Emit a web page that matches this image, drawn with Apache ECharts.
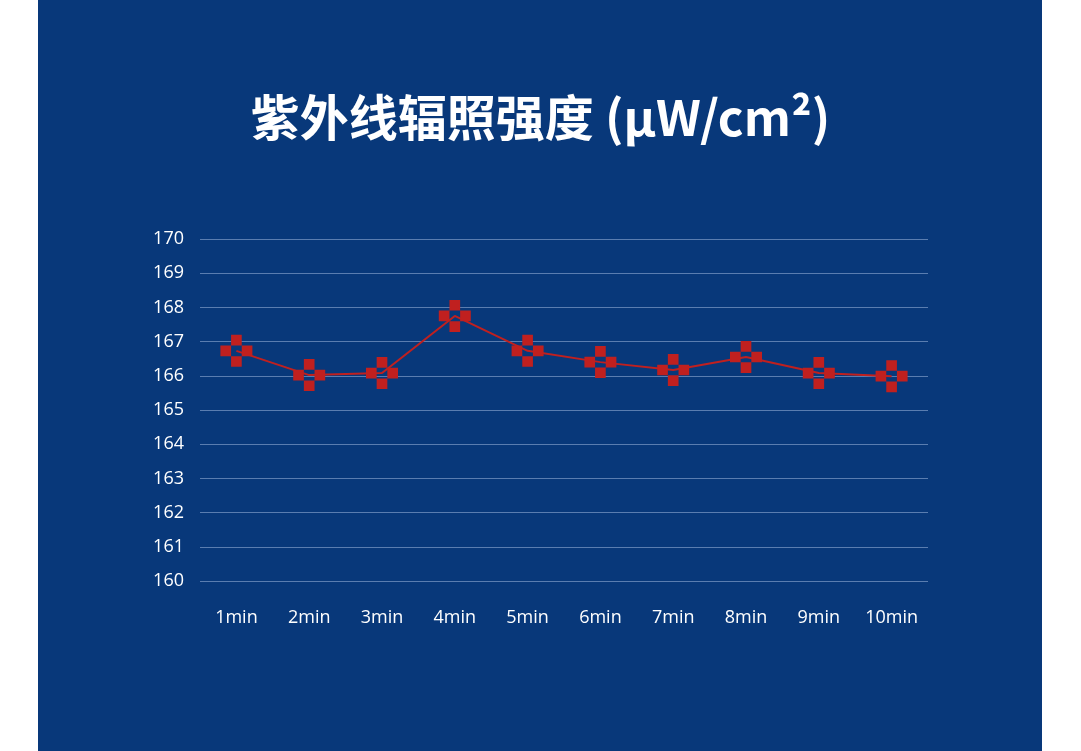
<!DOCTYPE html><html><head><meta charset="utf-8"><script src="https://cdn.jsdelivr.net/npm/echarts@6/dist/echarts.min.js"></script>
<style>body{margin:0;background:#fff}#p{position:absolute;left:38px;top:0;width:1004px;height:751px;background:#08387a}#c{position:absolute;left:0;top:0;width:1081px;height:751px}</style></head><body><div id="p"></div><div id="c"></div><script>
const categories=['1min','2min','3min','4min','5min','6min','7min','8min','9min','10min'];
const values=[166.73,166.02,166.08,167.75,166.73,166.4,166.17,166.55,166.08,165.99];
const ch=echarts.init(document.getElementById('c'));
ch.setOption({
title:{text:'紫外线辐照强度 (μW/cm²)',left:'center',top:88,textStyle:{color:'#fff',fontSize:49,fontWeight:'bold',fontFamily:'Noto Sans CJK SC'}},
grid:{left:200,right:153,top:239,bottom:170},
xAxis:{type:'category',data:categories,axisLine:{show:false},axisTick:{show:false},axisLabel:{color:'#fff',fontSize:18,margin:28,fontFamily:'Open Sans'}},
yAxis:{type:'value',min:160,max:170,interval:1,axisLabel:{color:'#fff',fontSize:18,margin:16,fontFamily:'Open Sans'},splitLine:{lineStyle:{color:'#5a7db0',width:1}}},
series:[{type:'line',data:values,symbol:'path://M10 0H20V10H10ZM0 10H10V20H0ZM20 10H30V20H20ZM10 20H20V30H10Z',symbolSize:32,lineStyle:{color:'#c0201f',width:2},itemStyle:{color:'#c0201f'}}]
});
</script></body></html>
